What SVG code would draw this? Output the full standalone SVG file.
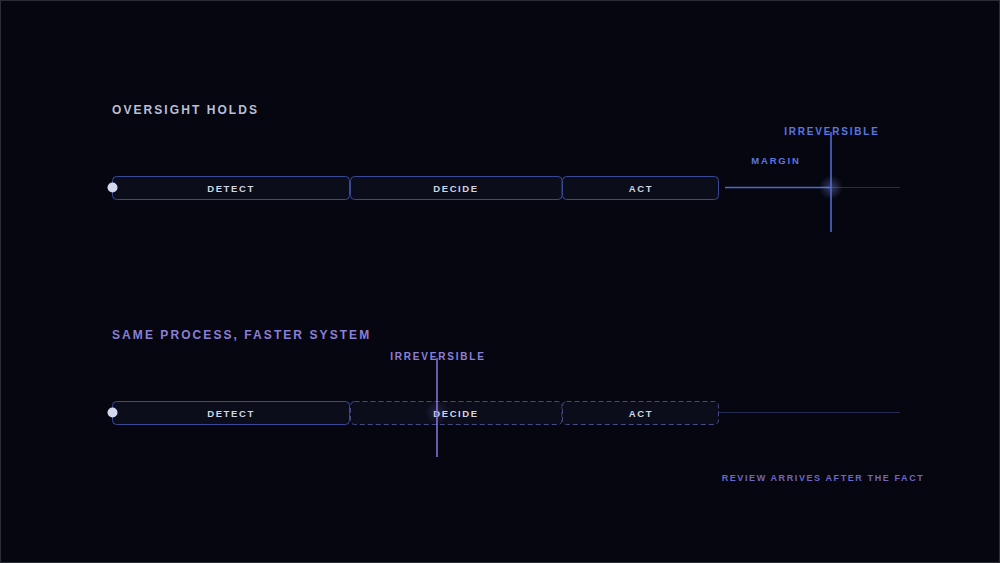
<svg xmlns="http://www.w3.org/2000/svg" width="1000" height="563" viewBox="0 0 1000 563">
<defs>
<style>
.title{font-family:"Liberation Sans",Arial,sans-serif;font-size:12px;font-weight:bold;letter-spacing:2.07px}
.lbl{font-family:"Liberation Sans",Arial,sans-serif;font-size:9.5px;font-weight:bold;letter-spacing:1.6px;fill:#d2d5e2;text-anchor:middle}
.tag{font-family:"Liberation Sans",Arial,sans-serif;font-size:10px;font-weight:bold;letter-spacing:1.8px;text-anchor:middle}
.box{fill:#0b0d1b;stroke:#3a4898;stroke-width:1}
.dash{fill:#0b0d1b;stroke:#454a88;stroke-width:1;stroke-dasharray:5 3}
</style>
<radialGradient id="glow" cx="0.5" cy="0.5" r="0.5">
<stop offset="0" stop-color="#8a9cff" stop-opacity="0.35"/>
<stop offset="1" stop-color="#8a9cff" stop-opacity="0"/>
</radialGradient>
<radialGradient id="glow2" cx="0.5" cy="0.5" r="0.5">
<stop offset="0" stop-color="#9a8cff" stop-opacity="0.18"/>
<stop offset="1" stop-color="#9a8cff" stop-opacity="0"/>
</radialGradient>
</defs>
<rect x="0" y="0" width="1000" height="563" fill="#05060f"/>
<rect x="0.5" y="0.5" width="999" height="562" fill="none" stroke="#2a2c36" stroke-width="1"/>

<text class="title" x="112" y="114" fill="#b9bfd4">OVERSIGHT HOLDS</text>
<text class="title" x="112" y="339" fill="#8a7fd6">SAME PROCESS, FASTER SYSTEM</text>

<g id="connectors">
<line x1="725" y1="187.5" x2="830" y2="187.5" stroke="#4f68d0" stroke-width="1.5"/>
<line x1="830" y1="187.5" x2="900" y2="187.5" stroke="#262c52" stroke-width="1"/>
<line x1="718" y1="412.5" x2="900" y2="412.5" stroke="#262a50" stroke-width="1"/>
</g>

<g id="top-detect"><rect class="box" x="112.5" y="176.5" width="237" height="23" rx="4"/><text class="lbl" x="231" y="191.5">DETECT</text></g>
<g id="top-decide"><rect class="box" x="350.5" y="176.5" width="211.5" height="23" rx="4"/><text class="lbl" x="456" y="191.5">DECIDE</text></g>
<g id="top-act"><rect class="box" x="562.5" y="176.5" width="156" height="23" rx="4"/><text class="lbl" x="641" y="191.5">ACT</text></g>
<g id="top-start"><circle cx="112.5" cy="187.5" r="5" fill="#d4d8ec"/></g>

<g id="top-irreversible">
<circle cx="831" cy="187.5" r="12" fill="url(#glow)"/>
<line x1="831" y1="132" x2="831" y2="232" stroke="#5670e0" stroke-width="1.5"/>
<text class="tag" x="832" y="135" fill="#5a76e0">IRREVERSIBLE</text>
</g>
<g id="top-margin"><text class="tag" x="776" y="164" fill="#5a76e0" style="font-size:9.5px">MARGIN</text></g>

<g id="bot-detect"><rect class="box" x="112.5" y="401.5" width="237" height="23" rx="4"/><text class="lbl" x="231" y="416.5">DETECT</text></g>
<g id="bot-decide"><rect class="dash" x="350.5" y="401.5" width="211.5" height="23" rx="4"/><text class="lbl" x="456" y="416.5">DECIDE</text></g>
<g id="bot-act"><rect class="dash" x="562.5" y="401.5" width="156" height="23" rx="4"/><text class="lbl" x="641" y="416.5">ACT</text></g>
<g id="bot-start"><circle cx="112.5" cy="412.5" r="5" fill="#d4d8ec"/></g>

<g id="bot-irreversible">
<circle cx="437" cy="412.5" r="12" fill="url(#glow2)"/>
<line x1="437" y1="358" x2="437" y2="457" stroke="#8a78e0" stroke-width="1.5"/>
<text class="tag" x="438" y="360" fill="#8c80d8">IRREVERSIBLE</text>
</g>
<g id="review"><text class="tag" x="823" y="480.5" fill="#6e66c4" style="font-size:9px;letter-spacing:1.6px">REVIEW ARRIVES AFTER THE FACT</text></g>
</svg>
